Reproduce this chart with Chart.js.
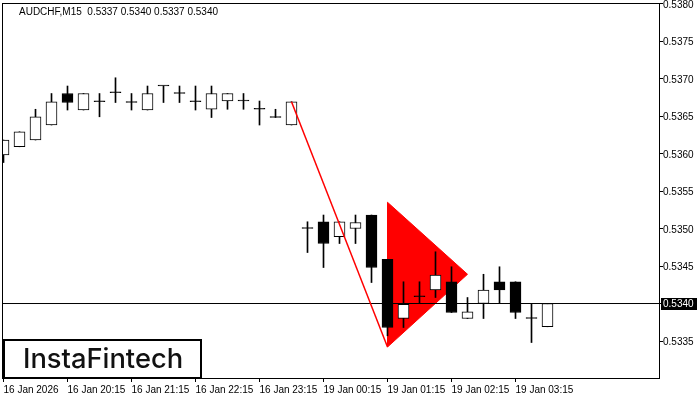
<!DOCTYPE html>
<html>
<head>
    <meta charset="utf-8">
    <title>AUDCHF M15</title>
    <script src="https://cdnjs.cloudflare.com/ajax/libs/Chart.js/4.4.0/chart.umd.min.js"></script>
    <style>
        html, body { margin: 0; padding: 0; background: #fff; }
        canvas { display: block; }
    </style>
</head>
<body>
    <canvas id="chart" width="700" height="400"></canvas>
    <script>
    // candles, index 0 = 16 Jan 19:15
    var opens  = [0.53598, 0.53609, 0.53618, 0.53638, 0.53680, 0.53658, 0.53669, 0.53681, 0.53668, 0.53658,
                  0.53690, 0.53680, 0.53669, 0.53659, 0.53670, 0.53670, 0.53659, 0.53648, 0.53638, 0.53500,
                  0.53509, 0.53489, 0.53500, 0.53518, 0.53459, 0.53380, 0.53409, 0.53418, 0.53429, 0.53380,
                  0.53400, 0.53429, 0.53429, 0.53380, 0.53369];
    var highs  = [0.53618, 0.53629, 0.53659, 0.53680, 0.53690, 0.53680, 0.53680, 0.53701, 0.53680, 0.53690,
                  0.53690, 0.53690, 0.53690, 0.53690, 0.53680, 0.53680, 0.53670, 0.53659, 0.53669, 0.53509,
                  0.53518, 0.53509, 0.53518, 0.53518, 0.53459, 0.53429, 0.53429, 0.53469, 0.53449, 0.53408,
                  0.53439, 0.53449, 0.53429, 0.53400, 0.53400];
    var lows   = [0.53588, 0.53609, 0.53618, 0.53638, 0.53658, 0.53658, 0.53649, 0.53668, 0.53658, 0.53658,
                  0.53668, 0.53668, 0.53658, 0.53648, 0.53659, 0.53659, 0.53638, 0.53648, 0.53638, 0.53468,
                  0.53448, 0.53480, 0.53480, 0.53428, 0.53357, 0.53368, 0.53400, 0.53408, 0.53388, 0.53380,
                  0.53380, 0.53400, 0.53380, 0.53348, 0.53369];
    var closes = [0.53618, 0.53629, 0.53649, 0.53669, 0.53668, 0.53680, 0.53669, 0.53681, 0.53668, 0.53680,
                  0.53690, 0.53680, 0.53669, 0.53680, 0.53680, 0.53670, 0.53659, 0.53648, 0.53669, 0.53500,
                  0.53480, 0.53509, 0.53508, 0.53448, 0.53368, 0.53399, 0.53409, 0.53438, 0.53388, 0.53389,
                  0.53418, 0.53418, 0.53388, 0.53380, 0.53400];

    var xTickIdx = [0, 4, 8, 12, 16, 20, 24, 28, 32];
    var xLabels = ['16 Jan 2026', '16 Jan 20:15', '16 Jan 21:15', '16 Jan 22:15', '16 Jan 23:15',
                   '19 Jan 00:15', '19 Jan 01:15', '19 Jan 02:15', '19 Jan 03:15'];
    var yTicks = [0.5335, 0.5340, 0.5345, 0.5350, 0.5355, 0.5360, 0.5365, 0.5370, 0.5375, 0.5380];

    // bearish pennant: pole and flag triangle
    var poleX = [18, 24];
    var poleY = [0.53669, 0.53342];
    var flagX = [24, 29, 24, 24];
    var flagY = [0.53535, 0.53439, 0.53342, 0.53535];

    var title = 'AUDCHF,M15  0.5337 0.5340 0.5337 0.5340';
    var lastClose = closes[closes.length - 1];

    var bodies = [], wicks = [], bodyColors = [];
    for (var i = 0; i < opens.length; i++) {
        bodies.push({ x: i, y: [opens[i], closes[i]] });
        wicks.push({ x: i, y: [lows[i], highs[i]] });
        bodyColors.push(closes[i] > opens[i] ? '#ffffff' : '#000000');
    }
    var pole = poleX.map(function(x, k) { return { x: x, y: poleY[k] }; });
    var flag = flagX.map(function(x, k) { return { x: x, y: flagY[k] }; });

    Chart.defaults.font.family = 'Liberation Sans';
    Chart.defaults.font.size = 10;
    Chart.defaults.color = '#000';

    var frame = {
        id: 'frame',
        afterDraw: function(chart) {
            var ctx = chart.ctx, a = chart.chartArea, y = chart.scales.y;
            ctx.save();
            ctx.strokeStyle = '#000';
            ctx.lineWidth = 1;
            ctx.strokeRect(a.left + 0.5, a.top + 0.5, a.right - a.left - 1, a.bottom - a.top);

            ctx.font = '10px "Liberation Sans"';
            ctx.fillStyle = '#000';
            ctx.textBaseline = 'alphabetic';
            ctx.fillText(title, 19, 15);

            // current price box
            var py = Math.round(y.getPixelForValue(lastClose));
            ctx.fillStyle = '#000';
            ctx.fillRect(a.right + 1, py - 6, 36, 12);
            ctx.fillStyle = '#fff';
            ctx.textBaseline = 'middle';
            ctx.fillText(lastClose.toFixed(4), a.right + 3, py + 0.5);

            // logo
            ctx.fillStyle = '#fff';
            ctx.fillRect(4, 340, 197, 38);
            ctx.lineWidth = 2;
            ctx.strokeStyle = '#000';
            ctx.strokeRect(4, 340, 197, 38);
            ctx.font = '500 25px Inter';
            var w = ctx.measureText('InstaFintech').width;
            ctx.font = '500 ' + (25 * 160 / w).toFixed(1) + 'px Inter';
            ctx.fillStyle = '#111';
            ctx.textBaseline = 'alphabetic';
            ctx.fillText('InstaFintech', 23, 368);
            ctx.restore();
        }
    };

    new Chart(document.getElementById('chart'), {
        type: 'bar',
        data: {
            datasets: [{
                type: 'line',
                data: pole,
                borderColor: '#ff0000',
                borderWidth: 1.5,
                pointRadius: 0,
                order: 1
            }, {
                data: bodies,
                backgroundColor: bodyColors,
                borderColor: '#000',
                borderWidth: 1,
                borderSkipped: false,
                barThickness: 11,
                minBarLength: 1,
                grouped: false,
                order: 2
            }, {
                data: wicks,
                backgroundColor: '#000',
                borderWidth: 0,
                barThickness: 1,
                grouped: false,
                order: 3
            }, {
                type: 'line',
                data: [{ x: -1, y: lastClose }, { x: 42, y: lastClose }],
                borderColor: '#000',
                borderWidth: 1,
                pointRadius: 0,
                order: 4
            }, {
                type: 'line',
                data: flag,
                borderColor: '#ff0000',
                backgroundColor: '#ff0000',
                borderWidth: 1,
                fill: 'shape',
                pointRadius: 0,
                tension: 0,
                order: 5
            }]
        },
        options: {
            responsive: false,
            animation: false,
            devicePixelRatio: 1,
            layout: { padding: { left: 2, top: 3, right: 0, bottom: 0 } },
            plugins: { legend: { display: false }, tooltip: { enabled: false } },
            scales: {
                x: {
                    type: 'linear',
                    position: 'bottom',
                    min: -0.09375,
                    max: 41.03125,
                    offset: false,
                    grid: { drawOnChartArea: false, offset: false, tickLength: 4, color: '#000' },
                    border: { display: false },
                    afterBuildTicks: function(s) {
                        s.ticks = xTickIdx.map(function(v) { return { value: v }; });
                    },
                    afterFit: function(s) {
                        s.height = 22;
                        s.paddingLeft = 0;
                        s.paddingRight = 0;
                    },
                    ticks: {
                        align: 'start',
                        autoSkip: false,
                        maxRotation: 0,
                        padding: 2,
                        callback: function(v, i) { return xLabels[i]; }
                    }
                },
                y: {
                    type: 'linear',
                    position: 'right',
                    min: 0.533007,
                    max: 0.538007,
                    grid: { drawOnChartArea: false, tickLength: 3, color: '#000' },
                    border: { display: false },
                    afterBuildTicks: function(s) {
                        s.ticks = yTicks.map(function(v) { return { value: v }; });
                    },
                    afterFit: function(s) {
                        s.width = 40;
                        s.paddingTop = 0;
                        s.paddingBottom = 0;
                    },
                    ticks: {
                        padding: 0,
                        labelOffset: 1.5,
                        callback: function(v) { return v.toFixed(4); }
                    }
                }
            }
        },
        plugins: [frame]
    });
    </script>
</body>
</html>
